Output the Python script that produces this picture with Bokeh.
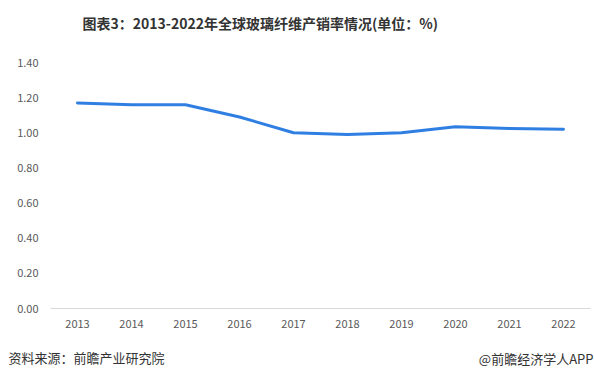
from bokeh.plotting import figure
from bokeh.layouts import column
from bokeh.models import FixedTicker, Range1d, NumeralTickFormatter, CustomJSTickFormatter
from bokeh.core.properties import value
from bokeh.embed import file_html
from bokeh.resources import INLINE

years = [2013, 2014, 2015, 2016, 2017, 2018, 2019, 2020, 2021, 2022]
rate = [1.17, 1.16, 1.16, 1.09, 1.00, 0.99, 1.00, 1.035, 1.025, 1.02]
y_ticks = [0.0, 0.2, 0.4, 0.6, 0.8, 1.0, 1.2, 1.4]
title_text = "图表3：2013-2022年全球玻璃纤维产销率情况(单位：%)"
source_text = "资料来源：前瞻产业研究院"
brand_text = "@前瞻经济学人APP"

FONT = "Noto Sans CJK SC"
W = 594


def text_strip(h):
    f = figure(width=W, height=h, output_backend="svg", toolbar_location=None,
               x_range=Range1d(0, W), y_range=Range1d(h, 0),
               x_axis_type=None, y_axis_type=None,
               min_border=0, min_border_left=0, min_border_right=0,
               min_border_top=0, min_border_bottom=0)
    f.outline_line_color = None
    f.grid.visible = False
    f.background_fill_color = "white"
    f.border_fill_color = "white"
    try:
        f.frame_align = False
    except Exception:
        pass
    return f


# header
head = text_strip(44)
head.text(x=[82], y=[22], text=[title_text], text_align="left", text_baseline="middle",
          text_font=value(FONT), text_font_style="bold", text_font_size="14px", text_color="#333333")

# main chart
p = figure(width=W, height=296, output_backend="svg", toolbar_location=None,
           x_range=Range1d(2012.5, 2022.5), y_range=Range1d(0, 1.4),
           min_border_left=50, min_border_right=4, min_border_top=18, min_border_bottom=32)
p.outline_line_color = None
p.background_fill_color = "white"
p.border_fill_color = "white"
p.xgrid.visible = False
p.ygrid.visible = False
try:
    p.frame_align = False
except Exception:
    pass

p.line(years, rate, line_color="#2f7fe3", line_width=3, line_join="round", line_cap="round")

xa = p.xaxis[0]
xa.ticker = FixedTicker(ticks=years)
xa.formatter = CustomJSTickFormatter(code="return tick.toFixed(0);")
xa.axis_line_color = "#d9d9d9"
xa.axis_line_width = 1
xa.major_tick_line_color = None
xa.minor_tick_line_color = None
xa.major_label_text_color = "#595959"
xa.major_label_text_font = FONT
xa.major_label_text_font_size = "11px"
xa.major_label_standoff = 5

ya = p.yaxis[0]
ya.ticker = FixedTicker(ticks=y_ticks)
ya.formatter = NumeralTickFormatter(format="0.00")
ya.axis_line_color = None
ya.major_tick_line_color = None
ya.minor_tick_line_color = None
ya.major_label_text_color = "#595959"
ya.major_label_text_font = FONT
ya.major_label_text_font_size = "11px"
ya.major_label_standoff = 6

# footer
foot = text_strip(38)
foot.text(x=[8], y=[17], text=[source_text], text_align="left", text_baseline="middle",
          text_font=value(FONT), text_font_size="13px", text_color="#333333")
foot.text(x=[593], y=[18], text=[brand_text], text_align="right", text_baseline="middle",
          text_font=value(FONT), text_font_size="13px", text_color="#333333")

layout = column(head, p, foot, spacing=0)
open("out.html", "w").write(file_html(layout, INLINE))
